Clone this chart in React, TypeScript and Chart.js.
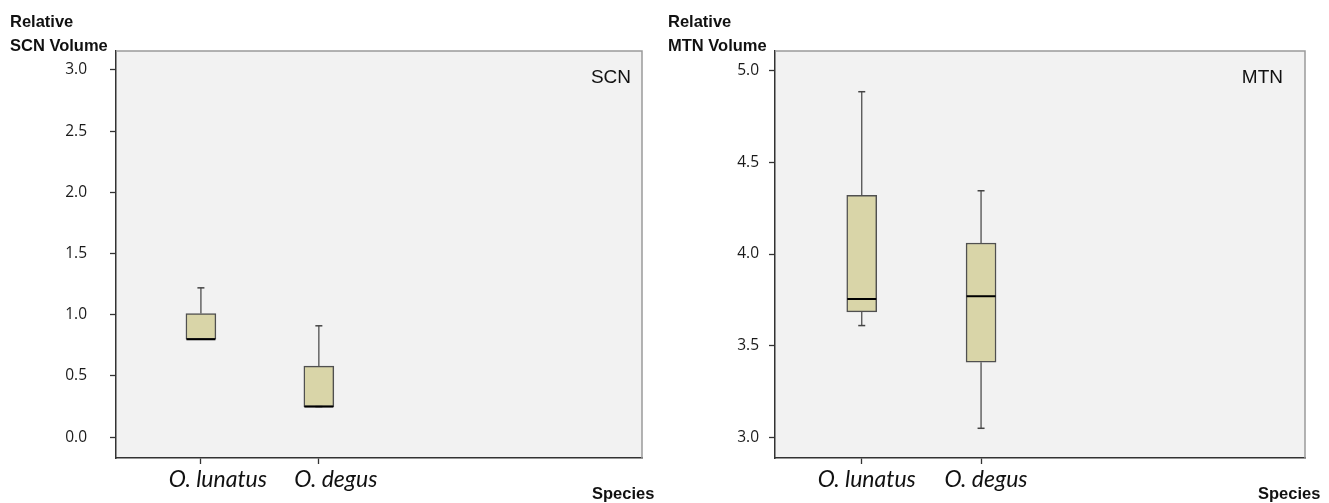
import React, { useEffect, useRef } from "react";
import { Chart, registerables } from "chart.js";

Chart.register(...registerables);

// ---- data ----
const species = ["O. lunatus", "O. degus"];
const speciesPos = [1, 2];

const scnMin = [0.8, 0.25];
const scnQ1 = [0.8, 0.25];
const scnMedian = [0.8, 0.25];
const scnQ3 = [1.01, 0.58];
const scnMax = [1.22, 0.91];
const scnTicks = [0, 0.5, 1, 1.5, 2, 2.5, 3];

const mtnMin = [3.61, 3.05];
const mtnQ1 = [3.685, 3.41];
const mtnMedian = [3.755, 3.77];
const mtnQ3 = [4.32, 4.06];
const mtnMax = [4.885, 4.345];
const mtnTicks = [3, 3.5, 4, 4.5, 5];

type Panel = {
  min: number[];
  q1: number[];
  med: number[];
  q3: number[];
  max: number[];
  ticks: number[];
  yMin: number;
  yMax: number;
  xMin: number;
  xMax: number;
  yAxisWidth: number;
  yTickPad: number;
  padRight: number;
  labelOffset: number;
};

const BOX_FILL = "#d9d5a8";
const BOX_EDGE = "#505050";

const framePlugin = {
  id: "frame",
  beforeDraw(chart: any) {
    const { ctx, chartArea: a } = chart;
    ctx.save();
    ctx.fillStyle = "#f2f2f2";
    ctx.fillRect(a.left, a.top, a.right - a.left, a.bottom - a.top);
    ctx.restore();
  },
  afterDraw(chart: any) {
    const { ctx, chartArea: a } = chart;
    ctx.save();
    ctx.strokeStyle = "#9a9a9a";
    ctx.lineWidth = 1.5;
    ctx.beginPath();
    ctx.moveTo(a.left, a.top);
    ctx.lineTo(a.right, a.top);
    ctx.lineTo(a.right, a.bottom);
    ctx.stroke();
    ctx.restore();
  },
};

function makeConfig(p: Panel): any {
  const whiskers: any[] = [];
  const caps: any[] = [];
  speciesPos.forEach((x, i) => {
    whiskers.push({ x, y: p.q3[i] }, { x, y: p.max[i] }, { x, y: null });
    whiskers.push({ x, y: p.q1[i] }, { x, y: p.min[i] }, { x, y: null });
    caps.push({ x, y: p.max[i] }, { x, y: p.min[i] });
  });
  return {
    type: "bar",
    data: {
      datasets: [
        {
          type: "line",
          data: whiskers,
          borderColor: BOX_EDGE,
          borderWidth: 1.3,
          pointRadius: 0,
          spanGaps: false,
          order: 4,
        },
        {
          type: "bar",
          data: speciesPos.map((x, i) => ({ x, y: [p.q1[i], p.q3[i]] })),
          backgroundColor: BOX_FILL,
          borderColor: BOX_EDGE,
          borderWidth: 1.5,
          borderSkipped: false,
          barThickness: 30,
          order: 3,
        },
        {
          type: "line",
          showLine: false,
          data: caps,
          pointStyle: "line",
          pointRadius: 3.5,
          borderColor: "#444",
          borderWidth: 1.5,
          order: 2,
        },
        {
          type: "line",
          showLine: false,
          data: speciesPos.map((x, i) => ({ x, y: p.med[i] })),
          pointStyle: "line",
          pointRadius: 14.5,
          borderColor: "#000",
          borderWidth: 2,
          order: 1,
        },
      ],
    },
    options: {
      responsive: false,
      animation: false,
      devicePixelRatio: 1,
      layout: { padding: { left: 0, top: 51, right: p.padRight, bottom: 0 } },
      plugins: { legend: { display: false }, tooltip: { enabled: false } },
      scales: {
        x: {
          type: "linear",
          min: p.xMin,
          max: p.xMax,
          offset: false,
          afterBuildTicks: (s: any) => {
            s.ticks = speciesPos.map((v) => ({ value: v }));
          },
          afterFit: (s: any) => {
            s.height = 45;
          },
          grid: {
            offset: false,
            drawOnChartArea: false,
            drawTicks: true,
            tickLength: 6,
            tickWidth: 1.3,
            color: "#333",
          },
          border: { color: "#333", width: 1.5 },
          ticks: {
            autoSkip: false,
            maxRotation: 0,
            padding: 2,
            labelOffset: p.labelOffset,
            color: "#111",
            font: { family: "Lato", style: "italic", size: 23 },
            callback: (v: any) => species[speciesPos.indexOf(v)] ?? "",
          },
        },
        y: {
          type: "linear",
          min: p.yMin,
          max: p.yMax,
          afterBuildTicks: (s: any) => {
            s.ticks = p.ticks.map((v) => ({ value: v }));
          },
          afterFit: (s: any) => {
            s.width = p.yAxisWidth;
          },
          grid: {
            offset: false,
            drawOnChartArea: false,
            drawTicks: true,
            tickLength: 6,
            tickWidth: 1.3,
            color: "#333",
          },
          border: { color: "#333", width: 1.5 },
          ticks: {
            padding: p.yTickPad,
            color: "#1a1a1a",
            font: { family: "Open Sans", size: 15.5 },
            callback: (v: any) => Number(v).toFixed(1),
          },
        },
      },
    },
    plugins: [framePlugin],
  };
}

const leftPanel: Panel = {
  min: scnMin,
  q1: scnQ1,
  med: scnMedian,
  q3: scnQ3,
  max: scnMax,
  ticks: scnTicks,
  yMin: -0.17,
  yMax: 3.155,
  xMin: 0.28,
  xMax: 4.74,
  yAxisWidth: 116,
  yTickPad: 23,
  padRight: 22,
  labelOffset: 17,
};

const rightPanel: Panel = {
  min: mtnMin,
  q1: mtnQ1,
  med: mtnMedian,
  q3: mtnQ3,
  max: mtnMax,
  ticks: mtnTicks,
  yMin: 2.888,
  yMax: 5.107,
  xMin: 0.273,
  xMax: 4.715,
  yAxisWidth: 111,
  yTickPad: 10,
  padRight: 24,
  labelOffset: 5,
};

function BoxPanel({ panel, left, width }: { panel: Panel; left: number; width: number }) {
  const ref = useRef<HTMLCanvasElement | null>(null);
  useEffect(() => {
    if (!ref.current) return;
    const chart = new Chart(ref.current, makeConfig(panel));
    return () => chart.destroy();
  }, [panel]);
  return (
    <canvas
      ref={ref}
      width={width}
      height={503}
      style={{ position: "absolute", left, top: 0, width, height: 503 }}
    />
  );
}

const titleStyle: React.CSSProperties = {
  position: "absolute",
  fontFamily: "'Liberation Sans', Arial, sans-serif",
  fontWeight: "bold",
  fontSize: 16.5,
  lineHeight: "24.5px",
  color: "#111",
  whiteSpace: "nowrap",
};

const tagStyle: React.CSSProperties = {
  position: "absolute",
  fontFamily: "'Liberation Sans', Arial, sans-serif",
  fontSize: 19,
  lineHeight: "19px",
  color: "#111",
  whiteSpace: "nowrap",
  textAlign: "right",
};

export default function App() {
  return (
    <div
      style={{
        position: "absolute",
        left: 0,
        top: 0,
        width: 1329,
        height: 503,
        background: "#fff",
        overflow: "hidden",
      }}
    >
      <BoxPanel panel={leftPanel} left={0} width={664} />
      <BoxPanel panel={rightPanel} left={664} width={665} />
      <div style={{ ...titleStyle, left: 10, top: 8.5 }}>
        Relative
        <br />
        SCN Volume
      </div>
      <div style={{ ...titleStyle, left: 668, top: 8.5 }}>
        Relative
        <br />
        MTN Volume
      </div>
      <div style={{ ...titleStyle, left: 592, top: 481 }}>Species</div>
      <div style={{ ...titleStyle, left: 1258, top: 481 }}>Species</div>
      <div style={{ ...tagStyle, right: 1329 - 631, top: 66.5 }}>SCN</div>
      <div style={{ ...tagStyle, right: 1329 - 1283, top: 66.5 }}>MTN</div>
    </div>
  );
}
